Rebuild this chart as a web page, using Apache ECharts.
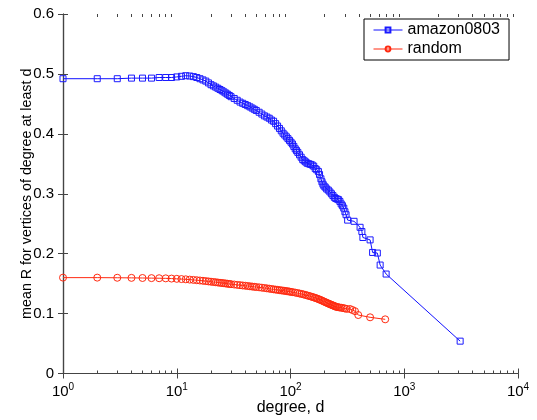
<!DOCTYPE html>
<html>
<head>
<meta charset="utf-8">
<script src="https://cdn.jsdelivr.net/npm/echarts@6/dist/echarts.min.js"></script>
<style>
html,body{margin:0;padding:0;background:#fff;}
#c{width:537px;height:420px;}
</style>
</head>
<body>
<div id="c"></div>
<script>
const seriesNames = ['amazon0803', 'random'];

const degAmazon = [1,2,3,4,5,6,7,8,9,10,11,12,13,14,15,16,17,18,19,20,21,22,23,24,25,26,27,28,29,30,
  32,34,36,38,40,42,44,46,48,50,53,56,59,62,65,68,71,74,77,80,83,86,89,92,95,98,101,104,107,110,113,116,
  120,124,128,132,136,140,145,150,155,160,165,170,176,180,185,189,193,197,202,208,215,222,229,236,243,
  250,258,265,272,279,286,294,301,308,318,362,409,424,433,501,527,580,614,693,3100];
const valAmazon = [0.492,0.492,0.492,0.493,0.493,0.493,0.494,0.494,0.494,0.495,0.496,0.497,0.4965,0.4955,0.494,
  0.492,0.490,0.488,0.485,0.482,0.480,0.478,0.476,0.474,0.472,0.470,0.468,0.466,0.464,0.462,
  0.459,0.456,0.453,0.451,0.449,0.447,0.445,0.443,0.441,0.439,0.436,0.433,0.430,0.428,0.426,0.423,0.421,
  0.417,0.413,0.409,0.405,0.401,0.398,0.395,0.392,0.389,0.386,0.383,0.379,0.375,0.372,0.369,
  0.365,0.361,0.357,0.355,0.353,0.351,0.350,0.349,0.348,0.346,0.342,0.340,0.337,0.332,0.325,0.320,0.316,
  0.313,0.311,0.308,0.306,0.303,0.300,0.297,0.294,0.292,0.291,0.290,0.287,0.283,0.280,0.276,0.270,0.265,
  0.256,0.254,0.244,0.237,0.227,0.223,0.202,0.201,0.181,0.166,0.054];

const degRandom = [1,2,3,4,5,6,7,8,9,10,11,12,13,14,15,16,17,18,19,20,21,22,23,24,25,26,27,28,29,30,
  32,34,36,38,40,42,44,46,48,50,53,56,59,62,65,68,71,74,77,80,83,86,89,92,95,98,101,105,110,115,120,125,
  130,135,140,145,150,155,160,165,170,175,180,185,190,195,200,205,210,215,220,225,230,235,240,245,250,
  256,262,270,280,290,300,312,334,350,369,394,501,680];
const valRandom = [0.1600,0.1600,0.1598,0.1596,0.1594,0.1592,0.1590,0.1588,0.1584,0.1580,0.1576,0.1572,0.1567,
  0.1562,0.1557,0.1552,0.1547,0.1542,0.1537,0.1532,0.1527,0.1523,0.1518,0.1514,0.1510,0.1506,0.1502,0.1498,
  0.1494,0.1491,0.1485,0.1479,0.1474,0.1469,0.1465,0.1460,0.1455,0.1451,0.1447,0.1443,0.1438,0.1432,0.1427,
  0.1421,0.1416,0.1410,0.1405,0.1400,0.1396,0.1391,0.1387,0.1383,0.1379,0.1375,0.1371,0.1367,0.1362,0.1357,
  0.1350,0.1343,0.1335,0.1328,0.1320,0.1312,0.1303,0.1295,0.1287,0.1279,0.1270,0.1262,0.1253,0.1244,0.1234,
  0.1225,0.1215,0.1205,0.1195,0.1186,0.1177,0.1168,0.1160,0.1152,0.1145,0.1138,0.1130,0.1123,0.1116,0.1110,
  0.1106,0.1102,0.1097,0.1092,0.1086,0.1078,0.1076,0.1060,0.1040,0.0976,0.0938,0.0904];

const xMajorExp = [0, 1, 2, 3, 4];
const yTickValues = [0, 0.1, 0.2, 0.3, 0.4, 0.5, 0.6];

// minor tick positions (in log10 space) for the log x axis decoration
const xMinorLog = [];
for (let e = 0; e < 4; e++) for (let k = 2; k <= 9; k++) xMinorLog.push(Math.log10(k * Math.pow(10, e)));

const FONT = 'Liberation Sans, Arial, Helvetica, sans-serif';
const axisColor = '#444';

const chart = echarts.init(document.getElementById('c'), null, {renderer: 'canvas'});

const logSpaceAxis = (pos, values, len, showLine) => ({
  type: 'value', min: 0, max: 4, position: pos,
  axisLine: {show: showLine, lineStyle: {color: axisColor, width: 1.2}},
  axisTick: {show: true, inside: true, length: len, customValues: values, lineStyle: {color: axisColor, width: 1}},
  axisLabel: {show: false},
  splitLine: {show: false}
});

chart.setOption({
  animation: false,
  backgroundColor: '#fff',
  textStyle: {fontFamily: FONT},
  grid: {left: 63, right: 19, top: 14, bottom: 46.5, containLabel: false, outerBoundsMode: 'none'},
  legend: {
    data: seriesNames,
    orient: 'vertical',
    left: 364, top: 19,
    itemWidth: 29, itemHeight: 6, itemGap: 1,
    padding: [2, 9, 2, 9],
    borderColor: '#000', borderWidth: 1,
    backgroundColor: '#fff',
    lineStyle: {width: 1},
    textStyle: {fontSize: 16, color: '#000', fontFamily: FONT, lineHeight: 18}
  },
  xAxis: [
    {
      type: 'log', logBase: 10, min: 1, max: 10000, position: 'bottom',
      axisLine: {show: true, lineStyle: {color: axisColor, width: 1.2}},
      axisTick: {show: true, inside: true, length: 5, lineStyle: {color: axisColor, width: 1}},
      axisLabel: {
        color: '#000', fontSize: 15, margin: 9, fontFamily: FONT,
        formatter: v => '10{s|' + Math.round(Math.log10(v)) + '}',
        rich: {s: {fontSize: 10, verticalAlign: 'top', padding: [0, 0, 8, 0], color: '#000', fontFamily: FONT}}
      },
      splitLine: {show: false},
      name: 'degree, d', nameLocation: 'middle', nameGap: 26, nameMoveOverlap: false,
      nameTextStyle: {fontSize: 16, color: '#000', fontFamily: FONT}
    },
    logSpaceAxis('top', xMajorExp, 5, true),
    logSpaceAxis('bottom', xMinorLog, 3, false),
    logSpaceAxis('top', xMinorLog, 3, false)
  ],
  yAxis: [
    {
      type: 'value', min: 0, max: 0.6, interval: 0.1, position: 'left',
      axisLine: {show: true, lineStyle: {color: axisColor, width: 1.2}},
      axisTick: {show: true, inside: true, length: 5, lineStyle: {color: axisColor, width: 1}},
      axisLabel: {color: '#000', fontSize: 15, margin: 9, fontFamily: FONT,
        formatter: v => (v === 0 ? '0' : v.toFixed(1))},
      splitLine: {show: false},
      name: 'mean R for vertices of degree at least d', nameLocation: 'middle', nameGap: 29, nameMoveOverlap: false,
      nameTextStyle: {fontSize: 14.3, color: '#000', fontFamily: FONT}
    },
    {
      type: 'value', min: 0, max: 0.6, interval: 0.1, position: 'right',
      axisLine: {show: true, lineStyle: {color: axisColor, width: 1.2}},
      axisTick: {show: true, inside: true, length: 5, lineStyle: {color: axisColor, width: 1}},
      axisLabel: {show: false},
      splitLine: {show: false}
    }
  ],
  series: [
    {
      name: seriesNames[0], type: 'line', xAxisIndex: 0, yAxisIndex: 0,
      data: degAmazon.map((d, i) => [d, valAmazon[i]]),
      symbol: 'rect', symbolSize: 6, showSymbol: true,
      lineStyle: {color: '#1010ff', width: 1},
      itemStyle: {color: 'rgba(0,0,0,0)', borderColor: '#1a1aff', borderWidth: 1},
      emphasis: {disabled: true},
      z: 3
    },
    {
      name: seriesNames[1], type: 'line', xAxisIndex: 0, yAxisIndex: 0,
      data: degRandom.map((d, i) => [d, valRandom[i]]),
      symbol: 'circle', symbolSize: 7, showSymbol: true,
      lineStyle: {color: '#ff2a10', width: 1},
      itemStyle: {color: 'rgba(0,0,0,0)', borderColor: '#ff2a10', borderWidth: 1},
      emphasis: {disabled: true},
      z: 2
    }
  ]
});
</script>
</body>
</html>
